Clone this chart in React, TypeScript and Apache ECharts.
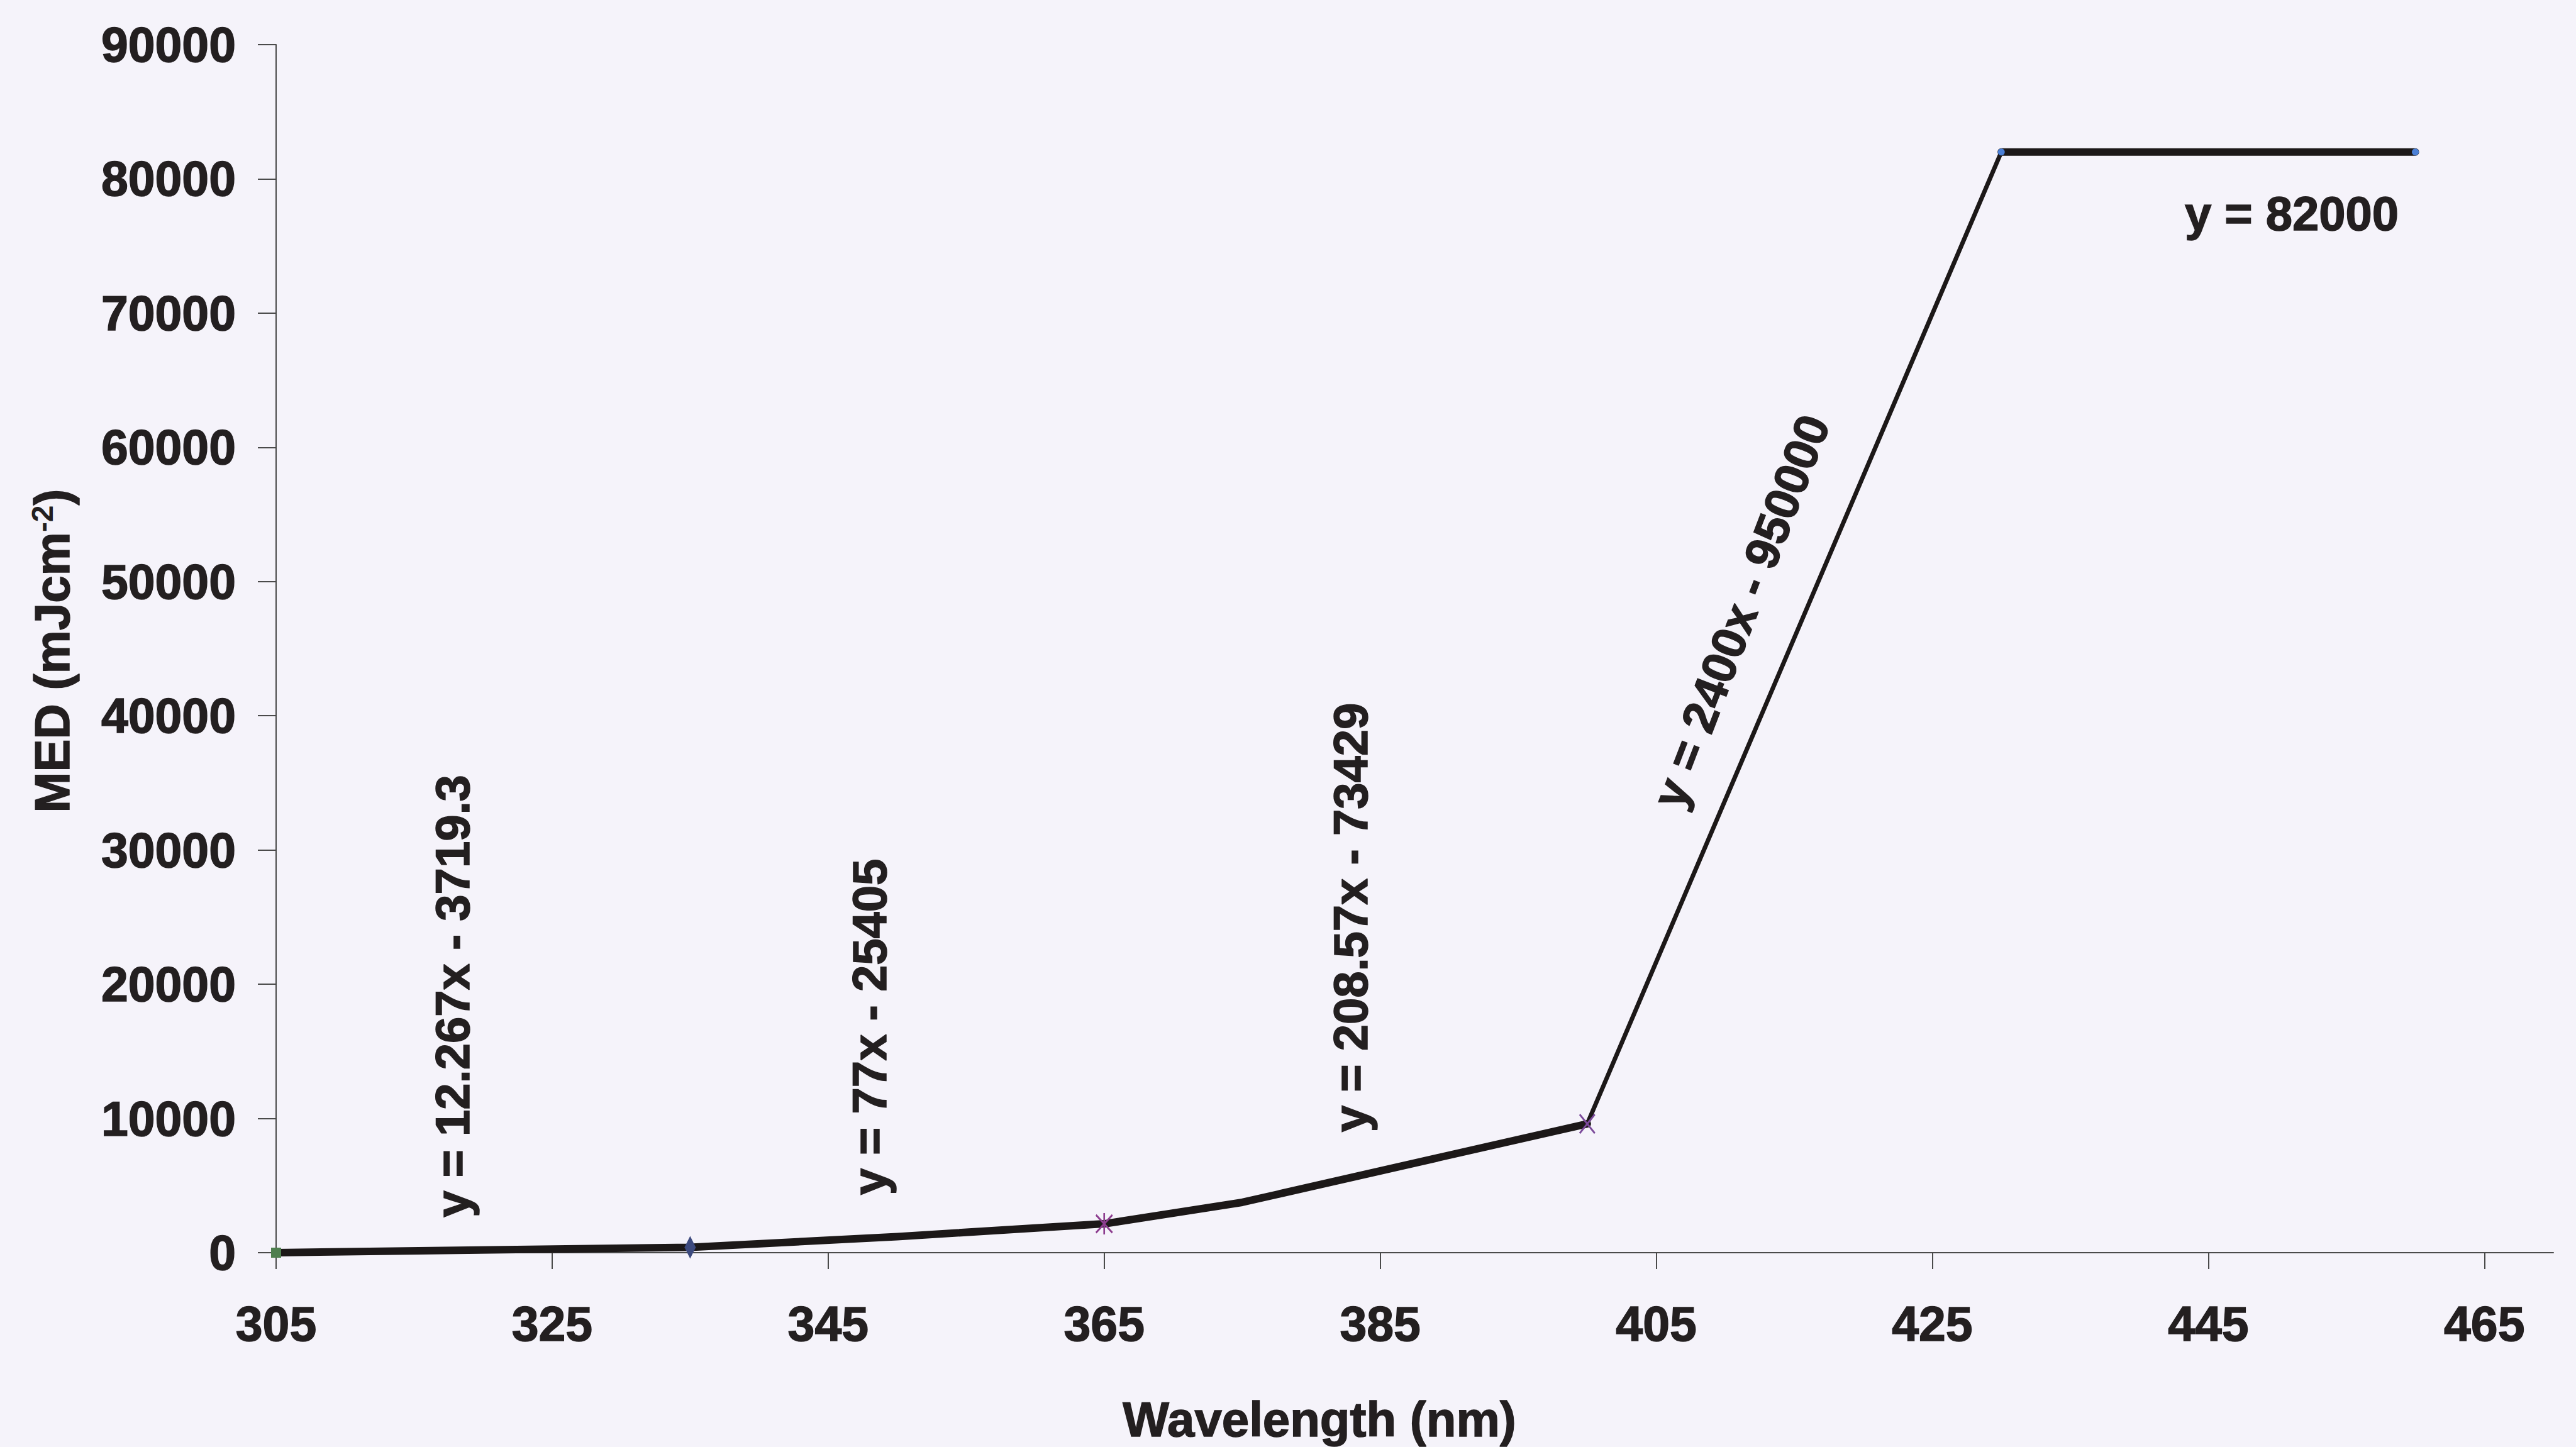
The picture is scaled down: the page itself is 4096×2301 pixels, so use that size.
import React, { useEffect, useRef } from "react";
import * as echarts from "echarts";

// ---- data ----
const wavelengths = [305, 335, 350, 365, 375, 400, 430, 460];
const medValues = [0, 400, 1200, 2150, 3750, 9600, 82000, 82000];
const markerKinds = ["square", "diamond", "none", "star", "none", "cross", "dot", "dot"];
// index ranges of the three drawn stretches: slow rise, steep rise, plateau
const lowRange = [0, 5];
const steepRange = [5, 6];
const plateauRange = [6, 7];
const xTickValues = [305, 325, 345, 365, 385, 405, 425, 445, 465];
const yTickValues = [0, 10000, 20000, 30000, 40000, 50000, 60000, 70000, 80000, 90000];
const equationTexts = [
  "y = 12.267x - 3719.3",
  "y = 77x - 25405",
  "y = 208.57x - 73429",
  "y = 2400x - 950000",
  "y = 82000",
];
const xTitle = "Wavelength (nm)";
const yTitleMain = "MED (mJcm";
const yTitleSup = "-2";

const FONT = '"Liberation Sans", Arial, Helvetica, sans-serif';
const TEXT = "#231f20";
const BG = "#f5f3fa";
const LINE = "#1c1818";

function markerItem(kind: string) {
  switch (kind) {
    case "square":
      return { symbol: "rect", symbolSize: 16, itemStyle: { color: "#4f7f4f" } };
    case "diamond":
      return { symbol: "diamond", symbolSize: [18, 36], itemStyle: { color: "#3d4a7e" } };
    case "star":
      return {
        symbol: "path://M0,0L10,10M10,0L0,10M5,-1L5,11",
        symbolSize: [26, 34],
        itemStyle: { color: "rgba(0,0,0,0)", borderColor: "#8d3d8f", borderWidth: 3 },
      };
    case "cross":
      return {
        symbol: "path://M0,0L10,10M10,0L0,10",
        symbolSize: [24, 30],
        itemStyle: { color: "rgba(0,0,0,0)", borderColor: "#7b4a9a", borderWidth: 3 },
      };
    case "dot":
      return { symbol: "circle", symbolSize: 11, itemStyle: { color: "#4a7fd6" } };
    default:
      return { symbol: "none" };
  }
}

function rangeData(range: number[], withMarkers: boolean) {
  const out: any[] = [];
  for (let i = range[0]; i <= range[1]; i++) {
    out.push({
      value: [wavelengths[i], medValues[i]],
      ...(withMarkers ? markerItem(markerKinds[i]) : { symbol: "none" }),
    });
  }
  return out;
}

export default function App() {
  const ref = useRef<HTMLDivElement>(null);

  useEffect(() => {
    if (!ref.current) return;
    const chart = echarts.init(ref.current, null, { renderer: "svg", width: 4096, height: 2301 });

    const eqFont = {
      fontSize: 76,
      fontWeight: "bold",
      fontFamily: FONT,
      fill: TEXT,
      stroke: TEXT,
      lineWidth: 1.5,
    };

    const lineSeries = (data: any[], width: number, z: number) => ({
      type: "line",
      data,
      showSymbol: true,
      symbol: "none",
      lineStyle: { color: LINE, width, join: "round", cap: "round" },
      itemStyle: { color: LINE },
      z,
    });

    const labelStyle = {
      show: true,
      fontSize: 77,
      fontWeight: "bold",
      fontFamily: FONT,
      color: TEXT,
      textBorderColor: TEXT,
      textBorderWidth: 1.5,
      formatter: (v: number) => String(v),
    };

    const option: any = {
      animation: false,
      backgroundColor: BG,
      grid: {
        left: 439,
        right: 36,
        top: 71,
        bottom: 309,
        containLabel: false,
        outerBoundsMode: "none",
      },
      xAxis: {
        type: "value",
        min: 305,
        max: 470,
        splitLine: { show: false },
        axisLine: { show: true, onZero: false, lineStyle: { color: "#4a4a4a", width: 2 } },
        axisTick: {
          show: true,
          inside: false,
          length: 26,
          customValues: xTickValues,
          lineStyle: { color: "#4a4a4a", width: 2 },
        },
        axisLabel: { ...labelStyle, customValues: xTickValues, margin: 74 },
      },
      yAxis: {
        type: "value",
        min: 0,
        max: 90000,
        splitLine: { show: false },
        axisLine: { show: true, lineStyle: { color: "#4a4a4a", width: 2 } },
        axisTick: {
          show: true,
          inside: false,
          length: 29,
          customValues: yTickValues,
          lineStyle: { color: "#4a4a4a", width: 2 },
        },
        axisLabel: { ...labelStyle, customValues: yTickValues, margin: 64 },
      },
      series: [
        lineSeries(rangeData(steepRange, false), 7, 2),
        lineSeries(rangeData(lowRange, true), 12, 3),
        lineSeries(rangeData(plateauRange, true), 12, 3),
      ],
      graphic: [
        {
          type: "text",
          x: 2098,
          y: 2257,
          style: {
            text: xTitle,
            textAlign: "center",
            textVerticalAlign: "middle",
            fontSize: 78,
            fontWeight: "bold",
            fontFamily: FONT,
            fill: TEXT,
            stroke: TEXT,
            lineWidth: 1.5,
          },
        },
        {
          type: "text",
          x: 83,
          y: 1035,
          rotation: Math.PI / 2,
          style: {
            text: "{a|" + yTitleMain + "}{b|" + yTitleSup + "}{a|)}",
            textAlign: "center",
            textVerticalAlign: "middle",
            fontSize: 78,
            fontWeight: "bold",
            fontFamily: FONT,
            fill: TEXT,
            rich: {
              a: {
                fontSize: 78,
                fontWeight: "bold",
                fontFamily: FONT,
                fill: TEXT,
                stroke: TEXT,
                lineWidth: 1.5,
                lineHeight: 80,
              },
              b: { fontSize: 48, fontWeight: "bold", fontFamily: FONT, fill: TEXT, verticalAlign: "top" },
            },
          },
        },
        {
          type: "text",
          x: 719,
          y: 1584,
          rotation: Math.PI / 2,
          style: { text: equationTexts[0], textAlign: "center", textVerticalAlign: "middle", ...eqFont },
        },
        {
          type: "text",
          x: 1382,
          y: 1633,
          rotation: Math.PI / 2,
          style: { text: equationTexts[1], textAlign: "center", textVerticalAlign: "middle", ...eqFont },
        },
        {
          type: "text",
          x: 2147,
          y: 1459,
          rotation: Math.PI / 2,
          style: { text: equationTexts[2], textAlign: "center", textVerticalAlign: "middle", ...eqFont },
        },
        {
          type: "text",
          x: 2768,
          y: 972,
          rotation: (69 * Math.PI) / 180,
          style: { text: equationTexts[3], textAlign: "center", textVerticalAlign: "middle", ...eqFont },
        },
        {
          type: "text",
          x: 3644,
          y: 339,
          style: { text: equationTexts[4], textAlign: "center", textVerticalAlign: "middle", ...eqFont },
        },
      ],
    };

    chart.setOption(option);
    return () => chart.dispose();
  }, []);

  return (
    <div
      ref={ref}
      style={{ position: "absolute", left: 0, top: 0, width: 4096, height: 2301, background: BG }}
    />
  );
}
